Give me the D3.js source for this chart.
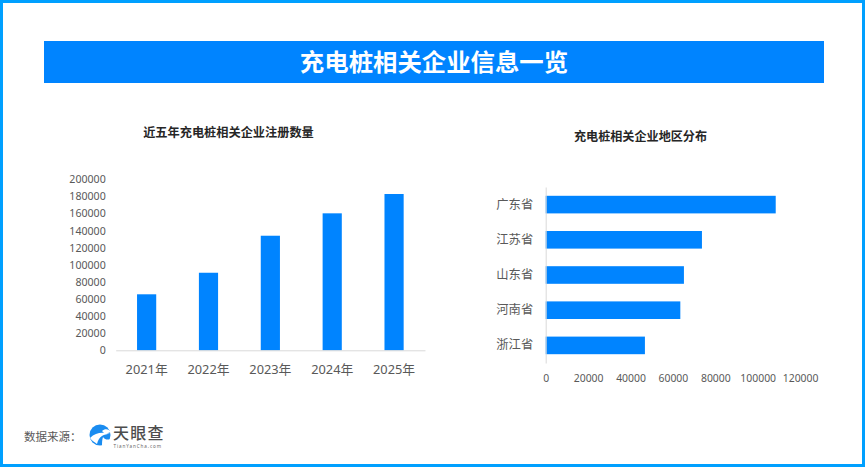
<!DOCTYPE html>
<html>
<head>
<meta charset="utf-8">
<script src="https://cdn.jsdelivr.net/npm/d3@7.9.0/dist/d3.min.js"></script>
<style>
  html, body { margin: 0; padding: 0; background: #fff; }
  svg { display: block; }
  text { font-family: "Noto Sans", "Noto Sans CJK SC", sans-serif; }
</style>
</head>
<body>
<svg id="chart" width="865" height="467"></svg>
<script>
const years = ['2021年', '2022年', '2023年', '2024年', '2025年'];
const yearCounts = [65500, 90700, 134000, 160200, 182800];
const yearTicks = [0, 20000, 40000, 60000, 80000, 100000, 120000, 140000, 160000, 180000, 200000];

const provinces = ['广东省', '江苏省', '山东省', '河南省', '浙江省'];
const provinceCounts = [108500, 73700, 65200, 63500, 46800];
const provinceTicks = [0, 20000, 40000, 60000, 80000, 100000, 120000];

const BLUE = '#0084ff';
const FRAME = '#00a0ff';
const AXIS = '#d9d9d9';
const CJK = '"Noto Sans CJK SC", sans-serif';

const svg = d3.select('#chart');

// outer frame
svg.append('rect')
    .attr('x', 1.5).attr('y', 1.5)
    .attr('width', 862).attr('height', 464)
    .attr('fill', 'none')
    .attr('stroke', FRAME)
    .attr('stroke-width', 3);

// title banner
svg.append('rect')
    .attr('x', 44).attr('y', 41)
    .attr('width', 780).attr('height', 42)
    .attr('fill', BLUE);

svg.append('text')
    .attr('x', 434).attr('y', 71)
    .attr('text-anchor', 'middle')
    .attr('fill', '#fff')
    .attr('font-size', 24.4)
    .attr('font-weight', 700)
    .style('font-family', CJK)
    .text('充电桩相关企业信息一览');

// ===== left chart =====
svg.append('text')
    .attr('x', 228.5).attr('y', 136.5)
    .attr('text-anchor', 'middle')
    .attr('fill', '#262626')
    .attr('font-size', 12.2)
    .attr('font-weight', 700)
    .style('font-family', CJK)
    .text('近五年充电桩相关企业注册数量');

// outer padding is half the inner one so the step stays range / 5
const x1 = d3.scaleBand().domain(years).range([115.7, 425]).paddingInner(0.69).paddingOuter(0.345);
const y1 = d3.scaleLinear().domain([0, 200000]).range([350.3, 179.3]);

svg.append('g').selectAll('rect')
    .data(yearCounts)
    .join('rect')
    .attr('x', (d, i) => x1(years[i]))
    .attr('y', d => y1(d))
    .attr('width', x1.bandwidth())
    .attr('height', d => y1(0) - y1(d))
    .attr('fill', BLUE);

const yAxis1 = svg.append('g')
    .attr('transform', 'translate(115.7,0)')
    .call(d3.axisLeft(y1).tickValues(yearTicks).tickSize(0).tickPadding(10).tickFormat(d3.format('d')));
yAxis1.select('.domain').remove();
yAxis1.selectAll('text').attr('fill', '#595959').attr('font-size', 10.6);

const xAxis1 = svg.append('g')
    .attr('transform', 'translate(0,350.3)')
    .call(d3.axisBottom(x1).tickSize(0).tickPadding(15));
xAxis1.select('.domain').attr('stroke', AXIS);
xAxis1.selectAll('text').attr('fill', '#595959').attr('font-size', 12.8);

// ===== right chart =====
svg.append('text')
    .attr('x', 640.5).attr('y', 140.5)
    .attr('text-anchor', 'middle')
    .attr('fill', '#262626')
    .attr('font-size', 12.1)
    .attr('font-weight', 700)
    .style('font-family', CJK)
    .text('充电桩相关企业地区分布');

const x2 = d3.scaleLinear().domain([0, 120000]).range([545.7, 800.1]);
const y2 = d3.scaleBand().domain(provinces).range([187, 363]).paddingInner(0.5).paddingOuter(0.25);

svg.append('g').selectAll('rect')
    .data(provinceCounts)
    .join('rect')
    .attr('x', x2(0))
    .attr('y', (d, i) => y2(provinces[i]))
    .attr('width', d => x2(d) - x2(0))
    .attr('height', y2.bandwidth())
    .attr('fill', BLUE);

const yAxis2 = svg.append('g')
    .attr('transform', 'translate(545.7,0)')
    .call(d3.axisLeft(y2).tickSize(0).tickPadding(12.5));
yAxis2.select('.domain').attr('stroke', AXIS);
yAxis2.selectAll('text').attr('fill', '#595959').attr('font-size', 12.3)
    .style('font-family', CJK);

const xAxis2 = svg.append('g')
    .attr('transform', 'translate(0,363)')
    .call(d3.axisBottom(x2).tickValues(provinceTicks).tickSize(0).tickPadding(12).tickFormat(d3.format('d')));
xAxis2.select('.domain').remove();
xAxis2.selectAll('text').attr('fill', '#595959').attr('font-size', 10.4);

// ===== source footer =====
svg.append('text')
    .attr('x', 24).attr('y', 441)
    .attr('fill', '#595959')
    .attr('font-size', 11.5)
    .style('font-family', CJK)
    .text('数据来源：');

// logo swirl
const logo = svg.append('g').attr('transform', 'translate(100,435)');
logo.append('circle').attr('r', 10.5).attr('fill', '#1a8cf0');
logo.append('path')
    .attr('d', 'M-10,3 C-4,-3 3,-3 10,-1 C4,-1 -1,1 -3,9 C-5,7 -8,6 -10,3 Z')
    .attr('fill', '#fff');
logo.append('path')
    .attr('d', 'M2,-4 C5,-7 9,-6 11,-3 L5,-1 Z')
    .attr('fill', '#fff');
logo.append('path')
    .attr('d', 'M3,2 C5,5 8,5 11,4 C9,8 5,11 2,11 C2,8 2,5 3,2 Z')
    .attr('fill', '#fff');

svg.append('text')
    .attr('x', 113).attr('y', 438.5)
    .attr('fill', '#4d4d4d')
    .attr('font-size', 16)
    .attr('font-weight', 500)
    .attr('letter-spacing', 1.3)
    .style('font-family', CJK)
    .text('天眼查');

svg.append('text')
    .attr('x', 113.5).attr('y', 448)
    .attr('fill', '#666')
    .attr('font-size', 4.6)
    .attr('letter-spacing', 0.9)
    .text('TianYanCha.com');
</script>
</body>
</html>
